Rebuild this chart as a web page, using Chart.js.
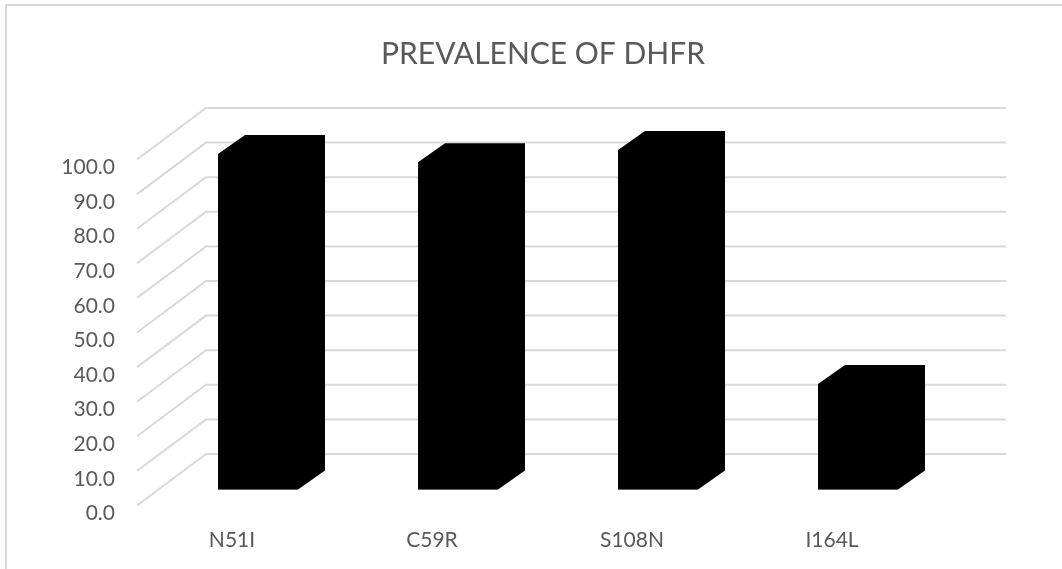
<!DOCTYPE html>
<html>
<head>
<meta charset="utf-8">
<title>Prevalence of DHFR</title>
<script src="https://cdn.jsdelivr.net/npm/chart.js@4.4.0/dist/chart.umd.min.js"></script>
<style>
    html, body { margin: 0; padding: 0; background: #ffffff; overflow: hidden; }
    canvas { display: block; }
</style>
</head>
<body>
<canvas id="dhfrChart" width="1062" height="569"></canvas>
<script>
// chart data
const mutations = ['N51I', 'C59R', 'S108N', 'I164L'];
const prevalence = [97.0, 94.6, 98.1, 30.5];
const yTicks = [0, 10, 20, 30, 40, 50, 60, 70, 80, 90, 100];
const chartTitle = 'PREVALENCE OF DHFR';

const TEXT_COLOR = '#595959';
const GRID_COLOR = '#d9d9d9';

// 3d offsets, relative to the plane the bar fronts sit on
const BAR_DEPTH = { dx: 27, dy: -19 };
const FLOOR_FRONT = { dx: -21, dy: 16 };
const BACK_WALL = { dx: 48, dy: -35.5 };

const depthPlugin = {
    id: 'depth3d',
    beforeDraw(chart) {
        const ctx = chart.ctx;
        ctx.save();
        ctx.fillStyle = '#ffffff';
        ctx.fillRect(0, 0, chart.width, chart.height);
        // outer frame
        ctx.strokeStyle = GRID_COLOR;
        ctx.lineWidth = 2;
        ctx.strokeRect(6, 5, chart.width + 20, chart.height + 20);
        // title
        ctx.fillStyle = TEXT_COLOR;
        ctx.font = '400 30px Lato';
        ctx.textAlign = 'center';
        ctx.textBaseline = 'alphabetic';
        ctx.fillText(chartTitle, 543, 64);
        ctx.restore();
    },
    beforeDatasetsDraw(chart) {
        const { ctx, chartArea } = chart;
        const y = chart.scales.y;
        ctx.save();
        ctx.strokeStyle = GRID_COLOR;
        ctx.lineWidth = 2;
        y.ticks.forEach(t => {
            const py = y.getPixelForValue(t.value);
            ctx.beginPath();
            ctx.moveTo(chartArea.left + FLOOR_FRONT.dx, py + FLOOR_FRONT.dy);
            ctx.lineTo(chartArea.left + BACK_WALL.dx, py + BACK_WALL.dy);
            ctx.lineTo(chartArea.right + BACK_WALL.dx, py + BACK_WALL.dy);
            ctx.stroke();
        });
        ctx.restore();
    },
    afterDatasetsDraw(chart) {
        const ctx = chart.ctx;
        ctx.save();
        ctx.fillStyle = '#000000';
        chart.getDatasetMeta(0).data.forEach(bar => {
            const { x, y, base, width } = bar.getProps(['x', 'y', 'base', 'width'], true);
            const l = x - width / 2;
            const r = x + width / 2;
            // front, top and side faces as one solid shape
            ctx.beginPath();
            ctx.moveTo(l, base);
            ctx.lineTo(l, y);
            ctx.lineTo(l + BAR_DEPTH.dx, y + BAR_DEPTH.dy);
            ctx.lineTo(r + BAR_DEPTH.dx, y + BAR_DEPTH.dy);
            ctx.lineTo(r + BAR_DEPTH.dx, base + BAR_DEPTH.dy);
            ctx.lineTo(r, base);
            ctx.closePath();
            ctx.fill();
        });
        ctx.restore();
    }
};

Chart.defaults.font.family = 'Lato';
Chart.defaults.color = TEXT_COLOR;

new Chart(document.getElementById('dhfrChart').getContext('2d'), {
    type: 'bar',
    data: {
        labels: mutations,
        datasets: [{
            label: 'Prevalence',
            data: prevalence,
            backgroundColor: '#000000',
            borderWidth: 0,
            categoryPercentage: 1.0,
            barPercentage: 0.4
        }]
    },
    options: {
        responsive: false,
        animation: false,
        layout: {
            padding: { top: 143.5, right: 104, bottom: 0, left: 0 }
        },
        plugins: {
            legend: { display: false },
            title: { display: false },
            tooltip: { enabled: false }
        },
        scales: {
            x: {
                grid: { display: false, drawTicks: false },
                border: { display: false },
                ticks: {
                    font: { size: 21 },
                    color: TEXT_COLOR,
                    padding: 38.5,
                    labelOffset: -26,
                    maxRotation: 0
                },
                afterFit: scale => { scale.height = 79.5; }
            },
            y: {
                min: 0,
                max: 100,
                grid: { display: false, drawTicks: false },
                border: { display: false },
                afterBuildTicks: scale => {
                    scale.ticks = yTicks.map(v => ({ value: v }));
                },
                ticks: {
                    font: { size: 21 },
                    color: TEXT_COLOR,
                    padding: 43,
                    labelOffset: 24,
                    callback: value => Number(value).toFixed(1)
                },
                afterFit: scale => { scale.width = 158; }
            }
        }
    },
    plugins: [depthPlugin]
});
</script>
</body>
</html>
